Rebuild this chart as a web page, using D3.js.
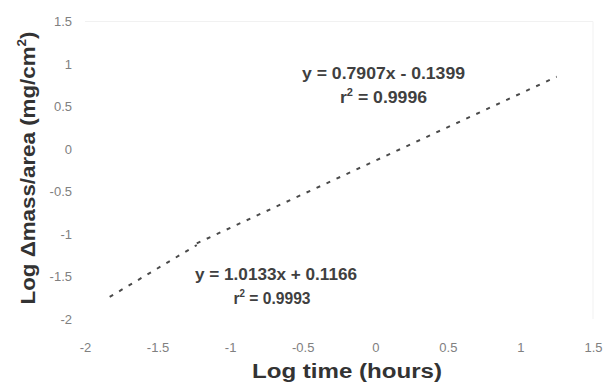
<!DOCTYPE html>
<html>
<head>
<meta charset="utf-8">
<script src="https://cdn.jsdelivr.net/npm/d3@7"></script>
<style>
  body { margin: 0; background: #fff; }
  svg { display: block; font-family: "Liberation Sans", Arial, sans-serif; }
  .tick text { fill: #808080; font-size: 13px; }
</style>
</head>
<body>
<svg id="chart" width="608" height="383"></svg>
<script>
// tick values and labels
var xTicks = [-2, -1.5, -1, -0.5, 0, 0.5, 1, 1.5];
var xTickLabels = ["-2", "-1.5", "-1", "-0.5", "0", "0.5", "1", "1.5"];
var yTicks = [-2, -1.5, -1, -0.5, 0, 0.5, 1, 1.5];
var yTickLabels = ["-2", "-1.5", "-1", "-0.5", "0", "0.5", "1", "1.5"];

// trendline end points (log time, log mass/area)
var fastX = [-1.83, -1.23];
var fastY = [-1.74, -1.13];
var slowX = [-1.23, 1.25];
var slowY = [-1.11, 0.85];

// fit labels
var fitEquations = ["y = 1.0133x + 0.1166", "y = 0.7907x - 0.1399"];
var fitR2 = ["0.9993", "0.9996"];

var svg = d3.select("#chart");

var x = d3.scaleLinear().domain([-2, 1.5]).range([85, 593]);
var y = d3.scaleLinear().domain([-2, 1.5]).range([319, 21.5]);

// faint remains of the plot frame
svg.append("path")
    .attr("d", "M" + x(-2) + "," + y(1.5) + "H" + x(1.5) + "V" + y(-2))
    .attr("fill", "none")
    .attr("stroke", "#f1f1f1")
    .attr("stroke-width", 1);

var xAxis = svg.append("g")
    .attr("transform", "translate(0," + y(-2) + ")")
    .call(d3.axisBottom(x)
        .tickValues(xTicks)
        .tickSize(0)
        .tickPadding(24)
        .tickFormat(function (d, i) { return xTickLabels[i]; }));
xAxis.select(".domain").remove();

var yAxis = svg.append("g")
    .attr("transform", "translate(" + x(-2) + ",0)")
    .call(d3.axisLeft(y)
        .tickValues(yTicks)
        .tickSize(0)
        .tickPadding(13)
        .tickFormat(function (d, i) { return yTickLabels[i]; }));
yAxis.select(".domain").remove();

svg.selectAll(".tick text").attr("font-family", null).attr("font-size", null);

// dotted trendlines
var line = d3.line()
    .x(function (d) { return x(d[0]); })
    .y(function (d) { return y(d[1]); });

[[fastX, fastY], [slowX, slowY]].forEach(function (s) {
    var pts = s[0].map(function (v, i) { return [v, s[1][i]]; });
    svg.append("path")
        .datum(pts)
        .attr("d", line)
        .attr("fill", "none")
        .attr("stroke", "#4a4a4a")
        .attr("stroke-width", 2)
        .attr("stroke-dasharray", "4,7");
});

// equation labels
function addFit(cx, by, eq, r2, eqLen, r2Len, r2cx) {
    svg.append("text")
        .attr("x", cx).attr("y", by)
        .attr("text-anchor", "middle")
        .attr("font-size", 16).attr("font-weight", "bold")
        .attr("fill", "#404040")
        .attr("textLength", eqLen).attr("lengthAdjust", "spacingAndGlyphs")
        .text(eq);
    var t = svg.append("text")
        .attr("x", r2cx).attr("y", by + 24)
        .attr("text-anchor", "middle")
        .attr("font-size", 16).attr("font-weight", "bold")
        .attr("fill", "#404040")
        .attr("textLength", r2Len).attr("lengthAdjust", "spacingAndGlyphs");
    t.append("tspan").text("r");
    t.append("tspan").attr("font-size", 10).attr("dy", -7).text("2");
    t.append("tspan").attr("dy", 7).text(" = " + r2);
}
addFit(383.5, 79, fitEquations[1], fitR2[1], 163, 87, 383.5);
addFit(276, 280, fitEquations[0], fitR2[0], 162, 77, 272);

// axis titles
svg.append("text")
    .attr("x", 347).attr("y", 378)
    .attr("text-anchor", "middle")
    .attr("font-size", 20).attr("font-weight", "bold")
    .attr("fill", "#333")
    .attr("textLength", 190).attr("lengthAdjust", "spacingAndGlyphs")
    .text("Log time (hours)");

var yt = svg.append("text")
    .attr("transform", "translate(35,168) rotate(-90)")
    .attr("text-anchor", "middle")
    .attr("font-size", 20).attr("font-weight", "bold")
    .attr("fill", "#333")
    .attr("textLength", 273).attr("lengthAdjust", "spacingAndGlyphs");
yt.append("tspan").text("Log \u0394mass/area (mg/cm");
yt.append("tspan").attr("font-size", 12).attr("dy", -9).text("2");
yt.append("tspan").attr("dy", 9).text(")");
</script>
</body>
</html>
